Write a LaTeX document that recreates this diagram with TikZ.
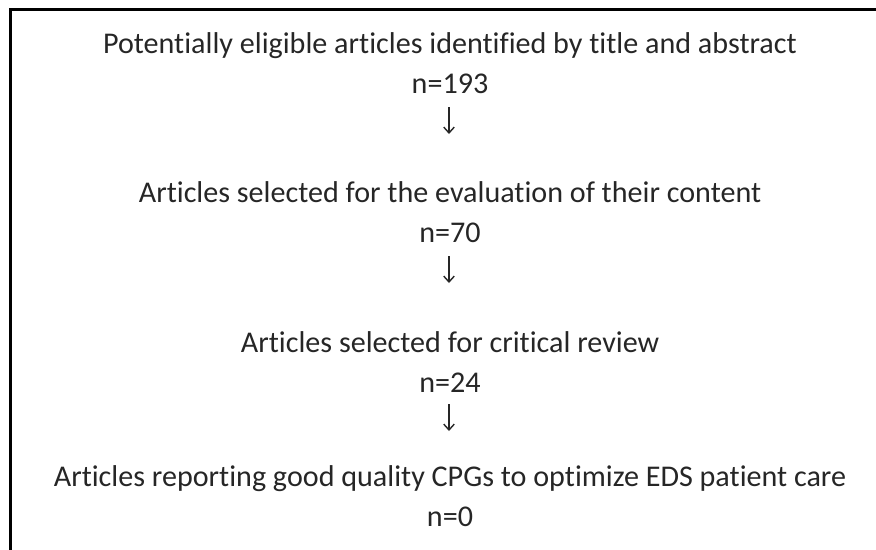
\documentclass[tikz,border=0pt]{standalone}
\usepackage{fontspec}
\setmainfont[RawFeature={-liga}]{Carlito}
\usetikzlibrary{arrows.meta}

\tikzset{
	steptext/.style = {anchor = base, inner sep = 0pt, font = \fontsize{25.7}{30}\selectfont, text = black!85},
	flowarrow/.style = {line width = 1.2pt, black!85, -{Straight Barb[length=5pt, width=9pt]}},
	frameline/.style = {line width = 2.4pt, line cap = rect}
}

\begin{document}
\begin{tikzpicture}[x = 0.03cm, y = -0.03cm]
		\useasboundingbox (0,0) rectangle (876,549);

		% frame (only top and left edge inside the picture)
		\draw[frameline] (10.5,560) -- (10.5,9.5) -- (890,9.5);

		% steps with their counts
		\foreach \i / \y / \txt / \num in {%
			1/53/{Potentially eligible articles identified by title and abstract}/193,
			2/202/{Articles selected for the evaluation of their content}/70,
			3/352/{Articles selected for critical review}/24,
			4/486/{Articles reporting good quality CPGs to optimize EDS patient care}/0%
		}{
			\node[steptext] (t\i) at (450, \y) {\txt};
			\node[steptext] (n\i) at (450, \y + 40) {n=\num};
		}

		% arrows between the steps
		\foreach \i / \y in {1/107, 2/256, 3/404}{
			\coordinate (up\i) at (449, \y);
			\coordinate (dn\i) at (449, \y + 27);
			\draw[flowarrow] (up\i) -- (dn\i);
		}

	\end{tikzpicture}
\end{document}
